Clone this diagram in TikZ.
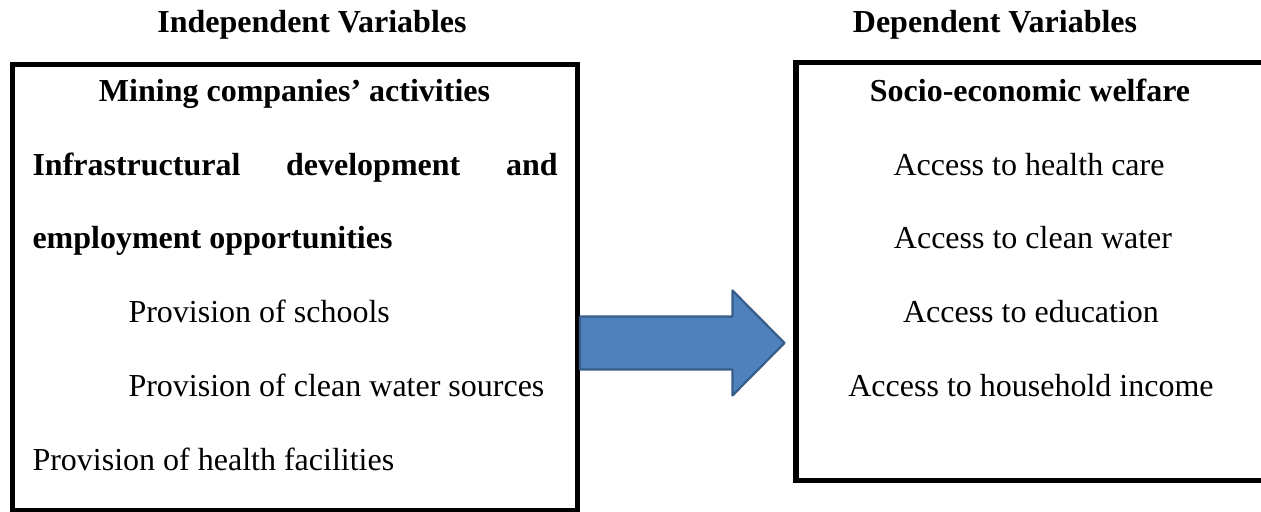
\documentclass[tikz,border=0pt]{standalone}
\usepackage{fontspec}
\setmainfont{Liberation Serif}
\usetikzlibrary{positioning,fit,calc}
\definecolor{arrowblue}{RGB}{79, 129, 189}
\definecolor{arrowedge}{RGB}{56, 93, 138}

\begin{document}
\begin{tikzpicture}[
        x=3.75pt, y=3.75pt,
        heading/.style={font=\fontsize{12}{14}\selectfont\bfseries, anchor=base, inner sep=0pt},
        varbox/.style={draw=black, line width=1.9pt, inner sep=0pt},
        boldline/.style={font=\fontsize{12}{14}\selectfont\bfseries, inner sep=0pt},
        plainline/.style={font=\fontsize{12}{14}\selectfont, inner sep=0pt},
        blockarrow/.style={fill=arrowblue, draw=arrowedge, line width=0.85pt, line join=round}
    ]
        \path[use as bounding box, clip] (0,0) rectangle (126.1,51.2);

        % Column headings
        \node[heading] (indhead) at (31.2, 47.9) {Independent Variables};
        \node[heading] (dephead) at (99.5, 47.9) {Dependent Variables};

        % Boxes
        \node[varbox, fit={(1.25,0.1) (57.75,44.75)}] (indep) {};
        \node[varbox, fit={(79.6,3.15) (126.4,44.95)}] (dep) {};

        % Independent variables
        \node[boldline, anchor=base] (mining) at (29.45, 41.0) {Mining companies’ activities};
        \node[boldline, anchor=base west] (infra) at (3.2, 33.6) {\makebox[196.9pt][s]{Infrastructural\hfill development\hfill and}};
        \node[boldline, anchor=base west] (employ) at (3.2, 26.3) {employment opportunities};
        \node[plainline, anchor=base west] (schools) at (12.8, 18.9) {Provision of schools};
        \node[plainline, anchor=base west] (water) at (12.8, 11.5) {Provision of clean water sources};
        \node[plainline, anchor=base west] (health) at (3.2, 4.1) {Provision of health facilities};

        % Dependent variables
        \node[boldline, anchor=base] (welfare) at (103.0, 41.0) {Socio-economic welfare};
        \node[plainline, anchor=base] (hcare) at (102.9, 33.6) {Access to health care};
        \node[plainline, anchor=base] (cwater) at (103.3, 26.3) {Access to clean water};
        \node[plainline, anchor=base] (educ) at (103.1, 18.9) {Access to education};
        \node[plainline, anchor=base] (income) at (103.1, 11.5) {Access to household income};

        % Block arrow between the boxes
        \coordinate (tail) at (indep.east |- 0,16.9);
        \coordinate (tip) at ($(dep.west |- tail)+(-0.9,0)$);
        \draw[blockarrow] ($(tail)+(0,2.65)$) -- ($(tip)+(-5.2,2.65)$) -- ($(tip)+(-5.2,5.25)$)
            -- (tip) -- ($(tip)+(-5.2,-5.25)$) -- ($(tip)+(-5.2,-2.65)$) -- ($(tail)+(0,-2.65)$) -- cycle;
    \end{tikzpicture}
\end{document}
